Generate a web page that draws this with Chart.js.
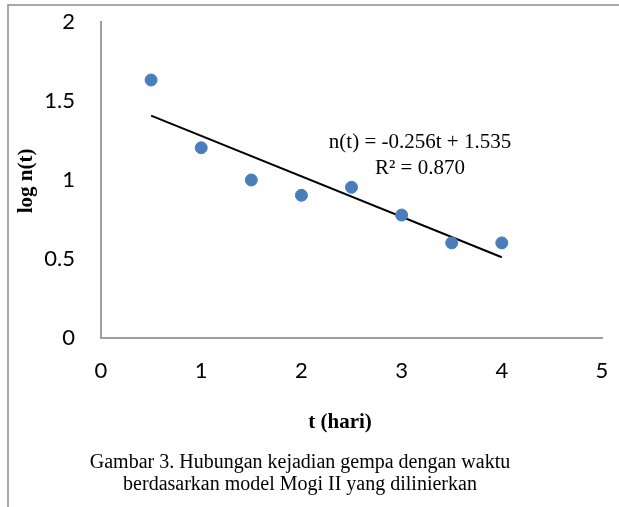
<!DOCTYPE html>
<html>
<head>
<meta charset="utf-8">
<script src="https://cdn.jsdelivr.net/npm/chart.js@4"></script>
<style>
  html, body { margin: 0; padding: 0; background: #fff; }
  #wrap { position: relative; width: 619px; height: 507px; }
</style>
</head>
<body>
<div id="wrap"><canvas id="mogiChart" width="619" height="507"></canvas></div>
<script>
// Data
const days = [0.5, 1, 1.5, 2, 2.5, 3, 3.5, 4];
const logN = [1.633, 1.204, 1.0, 0.903, 0.954, 0.778, 0.602, 0.602];
const trendDays = [0.5, 4];
const trendLogN = [1.407, 0.511];
const xTicks = [0, 1, 2, 3, 4, 5];
const yTicks = [0, 0.5, 1, 1.5, 2];
const equationLines = ["n(t) = -0.256t + 1.535", "R\u00b2 = 0.870"];
const captionLines = [
  "Gambar 3. Hubungan kejadian gempa dengan waktu",
  "berdasarkan model Mogi II yang dilinierkan"
];

const tickFont = { family: "Lato", size: 22 };

// Frame, axis titles, equation and caption
const decorations = {
  id: "decorations",
  afterDraw(chart) {
    const c = chart.ctx;
    c.save();
    c.strokeStyle = "#8c8c8c";
    c.lineWidth = 1.5;
    c.beginPath();
    c.moveTo(8, 507);
    c.lineTo(8, 5);
    c.lineTo(619, 5);
    c.stroke();

    c.fillStyle = "#000";
    c.font = "bold 21px 'Liberation Serif'";
    c.textAlign = "center";
    c.textBaseline = "alphabetic";
    c.fillText("t (hari)", 340, 428);

    c.save();
    c.translate(32, 181);
    c.rotate(-Math.PI / 2);
    c.fillText("log n(t)", 0, 0);
    c.restore();

    c.font = "21px 'Liberation Serif'";
    c.fillText(equationLines[0], 420, 148);
    c.fillText(equationLines[1], 420, 174);

    c.font = "20px 'Liberation Serif'";
    c.fillText(captionLines[0], 300, 468);
    c.fillText(captionLines[1], 300, 490);
    c.restore();
  }
};

const ctx = document.getElementById("mogiChart");
new Chart(ctx, {
  type: "scatter",
  data: {
    datasets: [
      {
        label: "log n(t)",
        data: days.map((d, i) => ({ x: d, y: logN[i] })),
        backgroundColor: "#4a7ebb",
        borderColor: "#4a7ebb",
        pointRadius: 6,
        pointHoverRadius: 6,
      },
      {
        label: "Linear",
        type: "line",
        data: trendDays.map((d, i) => ({ x: d, y: trendLogN[i] })),
        borderColor: "#000",
        borderWidth: 2,
        pointRadius: 0,
        fill: false,
      },
    ],
  },
  options: {
    responsive: false,
    animation: false,
    layout: { padding: { left: 0, top: 22, right: 17, bottom: 0 } },
    plugins: { legend: { display: false }, tooltip: { enabled: false } },
    scales: {
      x: {
        type: "linear",
        min: xTicks[0],
        max: xTicks[xTicks.length - 1],
        afterBuildTicks: (s) => { s.ticks = xTicks.map((v) => ({ value: v })); },
        afterFit: (s) => { s.height = 169; s.paddingLeft = 0; s.paddingRight = 0; },
        grid: { display: false, drawTicks: false },
        border: { color: "#a0a0a0", width: 2 },
        ticks: { font: tickFont, color: "#000", padding: 20, maxRotation: 0 },
      },
      y: {
        type: "linear",
        min: yTicks[0],
        max: yTicks[yTicks.length - 1],
        afterBuildTicks: (s) => { s.ticks = yTicks.map((v) => ({ value: v })); },
        afterFit: (s) => { s.width = 101; s.paddingTop = 0; s.paddingBottom = 0; },
        grid: { display: false, drawTicks: false },
        border: { color: "#a0a0a0", width: 2 },
        ticks: {
          font: tickFont,
          color: "#000",
          padding: 26,
          callback: (v) => String(v),
        },
      },
    },
  },
  plugins: [decorations],
});
</script>
</body>
</html>
